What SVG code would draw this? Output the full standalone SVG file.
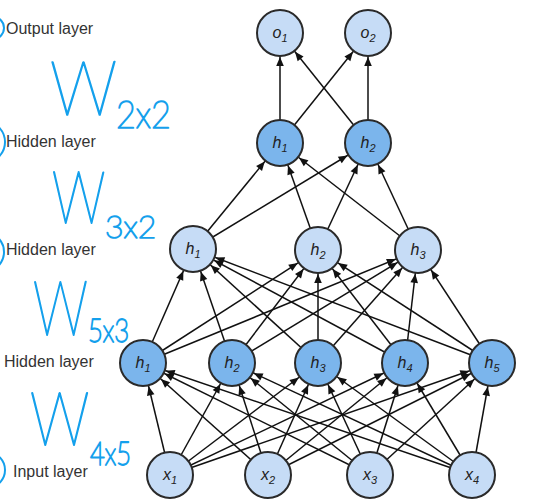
<svg xmlns="http://www.w3.org/2000/svg" width="535" height="500" viewBox="0 0 535 500">
<style>
.lbl{font-family:"Liberation Sans",Arial,sans-serif;font-size:16px;fill:#333}
.nl{font-family:"Liberation Sans",Arial,sans-serif;font-size:16px;font-style:italic;fill:#222;text-anchor:middle}
.light{fill:#c6dcf6;stroke:#2a2a2a;stroke-width:2}
.dark{fill:#7bb5ec;stroke:#2a2a2a;stroke-width:2}
.e{stroke:#111;stroke-width:1.5;fill:none;marker-end:url(#ah)}
.hw{font-family:"Lato","Inter","Noto Sans",sans-serif;font-weight:100;fill:#14a0ec;stroke:#14a0ec;stroke-width:1.6;stroke-linejoin:round;vector-effect:non-scaling-stroke}
.arc{fill:none;stroke:#14a0ec;stroke-width:2}
</style>
<defs>
<marker id="ah" markerUnits="userSpaceOnUse" markerWidth="10" markerHeight="10" refX="0" refY="0" orient="auto" overflow="visible">
<path d="M-24,0 L-33,-3.8 L-33,3.8 Z" fill="#111"/>
</marker>
</defs>
<rect width="535" height="500" fill="#fff"/>
<g id="annotations">
<ellipse class="arc" cx="-12" cy="28" rx="16" ry="13"/>
<ellipse class="arc" cx="-12" cy="142" rx="17" ry="19"/>
<ellipse class="arc" cx="-12" cy="252" rx="16" ry="18"/>
<ellipse class="arc" cx="-11" cy="470" rx="16" ry="17"/>
<text class="lbl" x="6" y="34">Output layer</text>
<text class="lbl" x="6" y="147">Hidden layer</text>
<text class="lbl" x="6" y="255">Hidden layer</text>
<text class="lbl" x="4" y="367">Hidden layer</text>
<text class="lbl" x="13" y="477">Input layer</text>
<text class="hw" font-size="76" transform="translate(50,115) scale(0.88,1)">W</text>
<text class="hw" font-size="38" transform="translate(116,128) scale(0.9,1)">2x2</text>
<text class="hw" font-size="72" transform="translate(52,223) scale(0.74,1)">W</text>
<text class="hw" font-size="32" transform="translate(105,238)">3x2</text>
<text class="hw" font-size="76" transform="translate(33,335) scale(0.72,1)">W</text>
<text class="hw" font-size="32" transform="translate(88,342) scale(0.8,1)">5x3</text>
<text class="hw" font-size="74" transform="translate(30,445) scale(0.8,1)">W</text>
<text class="hw" font-size="32" transform="translate(90,465) scale(0.8,1)">4x5</text>
</g>
<g id="connectors">
<path class="e" d="M170 475L143 363"/><path class="e" d="M170 475L232 363"/><path class="e" d="M170 475L318 363"/><path class="e" d="M170 475L405 363"/><path class="e" d="M170 475L492 363"/>
<path class="e" d="M268 475L143 363"/><path class="e" d="M268 475L232 363"/><path class="e" d="M268 475L318 363"/><path class="e" d="M268 475L405 363"/><path class="e" d="M268 475L492 363"/>
<path class="e" d="M370 475L143 363"/><path class="e" d="M370 475L232 363"/><path class="e" d="M370 475L318 363"/><path class="e" d="M370 475L405 363"/><path class="e" d="M370 475L492 363"/>
<path class="e" d="M472 475L143 363"/><path class="e" d="M472 475L232 363"/><path class="e" d="M472 475L318 363"/><path class="e" d="M472 475L405 363"/><path class="e" d="M472 475L492 363"/>
<path class="e" d="M143 363L193 249"/><path class="e" d="M143 363L318 250"/><path class="e" d="M143 363L418 250"/>
<path class="e" d="M232 363L193 249"/><path class="e" d="M232 363L318 250"/><path class="e" d="M232 363L418 250"/>
<path class="e" d="M318 363L193 249"/><path class="e" d="M318 363L318 250"/><path class="e" d="M318 363L418 250"/>
<path class="e" d="M405 363L193 249"/><path class="e" d="M405 363L318 250"/><path class="e" d="M405 363L418 250"/>
<path class="e" d="M492 363L193 249"/><path class="e" d="M492 363L318 250"/><path class="e" d="M492 363L418 250"/>
<path class="e" d="M193 249L280 143"/><path class="e" d="M193 249L368 143"/>
<path class="e" d="M318 250L280 143"/><path class="e" d="M318 250L368 143"/>
<path class="e" d="M418 250L280 143"/><path class="e" d="M418 250L368 143"/>
<path class="e" d="M280 143L280 33"/><path class="e" d="M280 143L368 33"/>
<path class="e" d="M368 143L280 33"/><path class="e" d="M368 143L368 33"/>
</g>
<g id="o1"><circle class="light" cx="280" cy="33" r="23"/><text class="nl" x="280" y="38">o<tspan font-size="11" dy="4">1</tspan></text></g>
<g id="o2"><circle class="light" cx="368" cy="33" r="23"/><text class="nl" x="368" y="38">o<tspan font-size="11" dy="4">2</tspan></text></g>
<g id="h3_1"><circle class="dark" cx="280" cy="143" r="23"/><text class="nl" x="280" y="148">h<tspan font-size="11" dy="4">1</tspan></text></g>
<g id="h3_2"><circle class="dark" cx="368" cy="143" r="23"/><text class="nl" x="368" y="148">h<tspan font-size="11" dy="4">2</tspan></text></g>
<g id="h2_1"><circle class="light" cx="193" cy="249" r="23"/><text class="nl" x="193" y="254">h<tspan font-size="11" dy="4">1</tspan></text></g>
<g id="h2_2"><circle class="light" cx="318" cy="250" r="23"/><text class="nl" x="318" y="255">h<tspan font-size="11" dy="4">2</tspan></text></g>
<g id="h2_3"><circle class="light" cx="418" cy="250" r="23"/><text class="nl" x="418" y="255">h<tspan font-size="11" dy="4">3</tspan></text></g>
<g id="h1_1"><circle class="dark" cx="143" cy="363" r="23"/><text class="nl" x="143" y="368">h<tspan font-size="11" dy="4">1</tspan></text></g>
<g id="h1_2"><circle class="dark" cx="232" cy="363" r="23"/><text class="nl" x="232" y="368">h<tspan font-size="11" dy="4">2</tspan></text></g>
<g id="h1_3"><circle class="dark" cx="318" cy="363" r="23"/><text class="nl" x="318" y="368">h<tspan font-size="11" dy="4">3</tspan></text></g>
<g id="h1_4"><circle class="dark" cx="405" cy="363" r="23"/><text class="nl" x="405" y="368">h<tspan font-size="11" dy="4">4</tspan></text></g>
<g id="h1_5"><circle class="dark" cx="492" cy="363" r="23"/><text class="nl" x="492" y="368">h<tspan font-size="11" dy="4">5</tspan></text></g>
<g id="x1"><circle class="light" cx="170" cy="475" r="23"/><text class="nl" x="170" y="480">x<tspan font-size="11" dy="4">1</tspan></text></g>
<g id="x2"><circle class="light" cx="268" cy="475" r="23"/><text class="nl" x="268" y="480">x<tspan font-size="11" dy="4">2</tspan></text></g>
<g id="x3"><circle class="light" cx="370" cy="475" r="23"/><text class="nl" x="370" y="480">x<tspan font-size="11" dy="4">3</tspan></text></g>
<g id="x4"><circle class="light" cx="472" cy="475" r="23"/><text class="nl" x="472" y="480">x<tspan font-size="11" dy="4">4</tspan></text></g>
</svg>
